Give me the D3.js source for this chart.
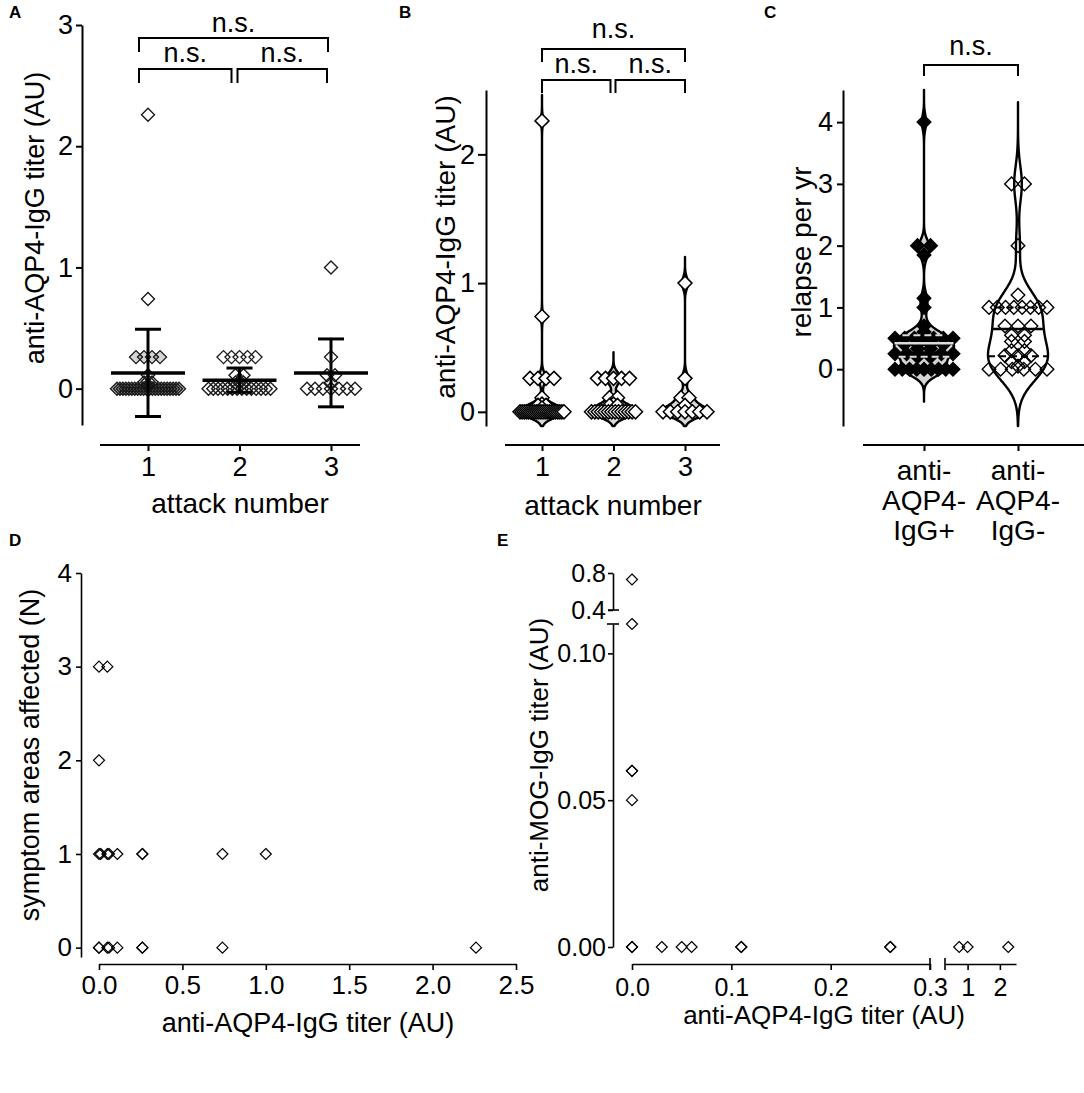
<!DOCTYPE html>
<html>
<head>
<meta charset="utf-8">
<script src="https://cdn.jsdelivr.net/npm/d3@7"></script>
<style>
  body { margin: 0; background: #fff; }
  svg text { font-family: "Liberation Sans", Arial, Helvetica, sans-serif; fill: #000; }
</style>
</head>
<body>
<svg id="figure" width="1084" height="1093"></svg>
<script>
// ---------------------------------------------------------------------------
// Data

// A / B : anti-AQP4-IgG titer (AU) per attack number
const attackNumbers = [1, 2, 3];
const titersAttack1 = [2.26, 0.74, 0.26, 0.26, 0.26, 0.26, 0.11, 0.06, 0.05, 0.05, 0.03,
  0, 0, 0, 0, 0, 0, 0, 0, 0, 0, 0, 0, 0, 0, 0, 0, 0, 0, 0, 0, 0, 0];
const titersAttack2 = [0.26, 0.26, 0.26, 0.26, 0.26, 0.11, 0.11, 0.06, 0.05, 0.05,
  0, 0, 0, 0, 0, 0, 0, 0, 0, 0, 0, 0, 0, 0];
const titersAttack3 = [1.0, 0.26, 0.11, 0.11, 0.05, 0, 0, 0, 0, 0, 0, 0];
const titerMeans = [0.13, 0.07, 0.13];
const titerSDs = [0.36, 0.10, 0.28];
const titerTicksA = [0, 1, 2, 3];
const titerTicksB = [0, 1, 2];

// C : relapses per year by serostatus
const serostatus = ['anti-AQP4-IgG+', 'anti-AQP4-IgG-'];
const serostatusLines = [['anti-', 'AQP4-', 'IgG+'], ['anti-', 'AQP4-', 'IgG-']];
const relapsePositive = [4.0, 2.0, 2.0, 1.85, 1.15, 1.0, 0.7, 0.6,
  0.5, 0.5, 0.5, 0.5, 0.5, 0.5, 0.5, 0.4, 0.4, 0.4, 0.4, 0.33, 0.33,
  0.25, 0.25, 0.25, 0.25, 0.25, 0.25, 0.2, 0.2,
  0, 0, 0, 0, 0, 0, 0, 0, 0];
const relapseNegative = [3.0, 3.0, 2.0, 1.2, 1.0, 1.0, 1.0, 1.0, 1.0, 1.0, 1.0, 1.0,
  0.7, 0.7, 0.7, 0.55, 0.55, 0.45, 0.45, 0.3, 0.3, 0.22, 0.22, 0.22, 0.12, 0.12, 0.05,
  0, 0, 0, 0, 0, 0];
const relapseMedians = [0.42, 0.65];
const relapseQ1 = [0.2, 0.21];
const relapseQ3 = [0.55, 1.0];
const relapseTicks = [0, 1, 2, 3, 4];

// D : symptom areas vs anti-AQP4-IgG titer
const symptomTiter = [0, 0.05, 0, 0, 0.01, 0.05, 0.06, 0.11, 0.26, 0.26, 0.74, 1.0,
  0, 0, 0.05, 0.06, 0.11, 0.26, 0.26, 0.74, 2.26];
const symptomAreas = [3, 3, 2, 1, 1, 1, 1, 1, 1, 1, 1, 1, 0, 0, 0, 0, 0, 0, 0, 0, 0];
const symptomTicksY = [0, 1, 2, 3, 4];
const symptomTicksX = [0, 0.5, 1, 1.5, 2, 2.5];

// E : anti-MOG-IgG vs anti-AQP4-IgG titer (broken axes)
const mogAqp4Titer = [0, 0, 0, 0, 0, 0, 0, 0.03, 0.05, 0.06, 0.11, 0.11, 0.26, 0.26, 0.74, 1.0, 2.26];
const mogTiter = [0.73, 0.11, 0.06, 0.06, 0.05, 0, 0, 0, 0, 0, 0, 0, 0, 0, 0, 0, 0];
const mogTicksLow = [0, 0.05, 0.1];
const mogTicksHigh = [0.4, 0.8];
const aqp4TicksLow = [0, 0.1, 0.2, 0.3];
const aqp4TicksHigh = [1, 2];

// ---------------------------------------------------------------------------
// Helpers

const svg = d3.select('#figure');
const FONT = '"Liberation Sans", Arial, Helvetica, sans-serif';

// square diamond (GraphPad style), size = area
const diamond = {
  draw(ctx, size) {
    const r = Math.sqrt(size / 2);
    ctx.moveTo(0, -r);
    ctx.lineTo(r, 0);
    ctx.lineTo(0, r);
    ctx.lineTo(-r, 0);
    ctx.closePath();
  }
};

function styleAxis(g, font, sw, keepDomain) {
  if (!keepDomain) g.select('.domain').remove();
  g.select('.domain').attr('stroke', '#000').attr('stroke-width', sw);
  g.selectAll('.tick line').attr('stroke', '#000').attr('stroke-width', sw);
  g.selectAll('text').attr('font-size', font).attr('font-family', FONT).attr('fill', '#000');
  g.attr('font-family', FONT);
}

function hLine(g, x0, x1, y, sw) {
  return g.append('line').attr('x1', x0).attr('x2', x1).attr('y1', y).attr('y2', y)
    .attr('stroke', '#000').attr('stroke-width', sw);
}

function vLine(g, x, y0, y1, sw) {
  return g.append('line').attr('x1', x).attr('x2', x).attr('y1', y0).attr('y2', y1)
    .attr('stroke', '#000').attr('stroke-width', sw);
}

function label(g, text, x, y, size, rotate, weight) {
  return g.append('text')
    .attr('transform', `translate(${x},${y})` + (rotate ? ' rotate(-90)' : ''))
    .attr('text-anchor', 'middle')
    .attr('font-size', size)
    .attr('font-weight', weight || 'normal')
    .text(text);
}

function panelLetter(text, x, y) {
  svg.append('text').attr('x', x).attr('y', y)
    .attr('font-size', 17).attr('font-weight', 'bold').text(text);
}

function sigBracket(g, x0, x1, yBar, drop, labelY) {
  g.append('path')
    .attr('d', `M${x0},${yBar + drop}V${yBar}H${x1}V${yBar + drop}`)
    .attr('fill', 'none').attr('stroke', '#000').attr('stroke-width', 2);
  label(g, 'n.s.', (x0 + x1) / 2, labelY, 27);
}

// spread identical values into a centred horizontal row
function rowOffsets(values, step, spread) {
  const counts = d3.rollup(values, v => v.length, d => d);
  const seen = new Map();
  return values.map(v => {
    const k = counts.get(v);
    const i = seen.get(v) || 0;
    seen.set(v, i + 1);
    const s = k > 1 ? Math.min(step, spread / (k - 1)) : 0;
    return (i - (k - 1) / 2) * s;
  });
}

function drawPoints(g, values, xs, y, r, fill, stroke, sw, fillOpacity) {
  g.append('g').selectAll('path').data(values).join('path')
    .attr('transform', (v, i) => `translate(${xs[i]},${y(v)})`)
    .attr('d', d3.symbol(diamond, 2 * r * r))
    .attr('fill', fill)
    .attr('fill-opacity', fillOpacity == null ? 1 : fillOpacity)
    .attr('stroke', stroke)
    .attr('stroke-width', sw)
    .attr('stroke-linejoin', 'miter');
}

// Silverman bandwidth with a floor
function bandwidth(values, floor) {
  const s = values.slice().sort(d3.ascending);
  const iqr = d3.quantileSorted(s, 0.75) - d3.quantileSorted(s, 0.25);
  const spread = Math.min(d3.deviation(s), iqr / 1.34);
  return Math.max(floor, 0.9 * spread * Math.pow(s.length, -0.2));
}

// gaussian kde, clipped to the axis domain like the original software
function makeViolin(values, h, halfMax, clip) {
  const density = v => d3.sum(values, x => Math.exp(-0.5 * ((v - x) / h) ** 2));
  const lo = Math.max(clip[0], d3.min(values) - 4.5 * h);
  const hi = Math.min(clip[1], d3.max(values) + 4.5 * h);
  const grid = d3.range(0, 301).map(i => lo + (hi - lo) * i / 300);
  const peak = d3.max(grid, density);
  return { grid, width: v => density(v) / peak * halfMax };
}

function drawViolin(g, vio, cx, y, fill, sw) {
  g.append('path')
    .datum(vio.grid)
    .attr('d', d3.area()
      .y(v => y(v))
      .x0(v => cx - vio.width(v))
      .x1(v => cx + vio.width(v))
      .curve(d3.curveBasis))
    .attr('fill', fill)
    .attr('stroke', '#000')
    .attr('stroke-width', sw)
    .attr('stroke-linejoin', 'round');
}

// ---------------------------------------------------------------------------
// A : scatter with mean +/- SD

const titerGroups = [titersAttack1, titersAttack2, titersAttack3];
{
  const g = svg.append('g');
  const y = d3.scaleLinear().domain([-0.3, 3]).range([425, 25]);
  const x = d3.scalePoint().domain(attackNumbers).range([148, 331]);

  g.append('g').attr('transform', 'translate(82,0)')
    .call(d3.axisLeft(y).tickValues(titerTicksA).tickFormat(d3.format('d'))
      .tickSize(6).tickPadding(3).tickSizeOuter(0))
    .call(ax => styleAxis(ax, 27, 2, true));
  hLine(g, 100, 360, 445, 2);
  g.append('g').attr('transform', 'translate(0,445)')
    .call(d3.axisBottom(x).tickSize(6).tickPadding(6))
    .call(ax => styleAxis(ax, 27, 2, false));

  titerGroups.forEach((vals, i) => {
    const cx = x(attackNumbers[i]);
    const off = rowOffsets(vals, 8, 62);
    const counts = d3.rollup(vals, v => v.length, d => d);
    // first group: dense clusters carry a grey fill as in the original
    g.append('g').selectAll('path').data(vals).join('path')
      .attr('transform', (v, j) => `translate(${cx + off[j]},${y(v)})`)
      .attr('d', d3.symbol(diamond, 2 * 6.5 * 6.5))
      .attr('fill', v => (i === 0 && counts.get(v) >= 3 ? '#000' : 'none'))
      .attr('fill-opacity', 0.16)
      .attr('stroke', '#1a1a1a')
      .attr('stroke-width', 1.4);
  });

  titerGroups.forEach((vals, i) => {
    const cx = x(attackNumbers[i]);
    const m = titerMeans[i], s = titerSDs[i];
    vLine(g, cx, y(m - s), y(m + s), 3);
    hLine(g, cx - 13, cx + 13, y(m + s), 3);
    hLine(g, cx - 13, cx + 13, y(m - s), 3);
    hLine(g, cx - 37, cx + 37, y(m), 3.5);
  });

  sigBracket(g, x(1) - 9, x(3) - 3, 38, 14, 32);
  sigBracket(g, x(1) - 9, x(2) - 8, 69, 14, 62);
  sigBracket(g, x(2) - 2, x(3) - 4, 69, 14, 62);

  label(g, 'anti-AQP4-IgG titer (AU)', 44, 218, 27, true);
  label(g, 'attack number', 240, 513, 28);
}

// ---------------------------------------------------------------------------
// B : violins of the same titers

{
  const g = svg.append('g');
  const y = d3.scaleLinear().domain([-0.11, 2.5]).range([426, 90]);
  const x = d3.scalePoint().domain(attackNumbers).range([542, 685]);

  g.append('g').attr('transform', 'translate(486,0)')
    .call(d3.axisLeft(y).tickValues(titerTicksB).tickFormat(d3.format('d'))
      .tickSize(8).tickPadding(3).tickSizeOuter(0))
    .call(ax => styleAxis(ax, 27, 2, true));
  hLine(g, 505, 720, 445, 2);
  g.append('g').attr('transform', 'translate(0,445)')
    .call(d3.axisBottom(x).tickSize(6).tickPadding(6))
    .call(ax => styleAxis(ax, 27, 2, false));

  titerGroups.forEach((vals, i) => {
    const cx = x(attackNumbers[i]);
    const vio = makeViolin(vals, bandwidth(vals, 0.045), 23, y.domain());
    drawViolin(g, vio, cx, y, '#d9d9d9', 2.4);
    const off = rowOffsets(vals, 8, 44);
    drawPoints(g, vals, off.map(o => cx + o), y, 7, '#fff', '#000', 1.5);
  });

  sigBracket(g, x(1), x(3), 49, 13, 38);
  sigBracket(g, x(1), x(2) - 3, 80, 13, 73);
  sigBracket(g, x(2) + 2, x(3), 80, 13, 73);

  label(g, 'anti-AQP4-IgG titer (AU)', 455, 247, 28, true);
  label(g, 'attack number', 613, 515, 28);
}

// ---------------------------------------------------------------------------
// C : relapse rate violins

{
  const g = svg.append('g');
  const y = d3.scaleLinear().domain([-0.92, 4.52]).range([426, 90]);
  const x = d3.scalePoint().domain(serostatus).range([924, 1018]);

  g.append('g').attr('transform', 'translate(843,0)')
    .call(d3.axisLeft(y).tickValues(relapseTicks).tickFormat(d3.format('d'))
      .tickSize(6).tickPadding(4).tickSizeOuter(0))
    .call(ax => styleAxis(ax, 27, 2, true));
  hLine(g, 863, 1084, 445, 2);
  g.append('g').attr('transform', 'translate(0,445)')
    .call(d3.axisBottom(x).tickSize(6).tickFormat(''))
    .call(ax => styleAxis(ax, 27, 2, false));
  serostatus.forEach((s, i) => {
    serostatusLines[i].forEach((line, j) => label(g, line, x(s), 480 + j * 30, 28));
  });

  const groups = [relapsePositive, relapseNegative];
  const fills = ['#d4d4d4', '#fff'];
  const ptFill = ['#000', 'none'];
  const lineColor = ['#dcdcdc', '#000'];
  groups.forEach((vals, i) => {
    const cx = x(serostatus[i]);
    const vio = makeViolin(vals, bandwidth(vals, 0.05) * (i === 0 ? 1.2 : 1), 30, y.domain());
    drawViolin(g, vio, cx, y, fills[i], 2.4);
    const off = rowOffsets(vals, 13, 58);
    drawPoints(g, vals, off.map(o => cx + o), y, 6.8, ptFill[i], '#000', 1.4);
    // median (solid) and quartiles (dashed)
    const w = v => vio.width(v);
    hLine(g, cx - w(relapseMedians[i]), cx + w(relapseMedians[i]), y(relapseMedians[i]), 2.5)
      .attr('stroke', lineColor[i]);
    [relapseQ1[i], relapseQ3[i]].forEach(q => {
      g.append('line')
        .attr('x1', cx - w(q)).attr('x2', cx + w(q))
        .attr('y1', y(q)).attr('y2', y(q))
        .attr('stroke', lineColor[i]).attr('stroke-width', 2)
        .attr('stroke-dasharray', '7,4');
    });
  });

  sigBracket(g, x(serostatus[0]), x(serostatus[1]), 65, 11, 55);
  label(g, 'relapse per yr', 811, 252, 28, true);
}

// ---------------------------------------------------------------------------
// D : symptom areas vs titer

{
  const g = svg.append('g');
  const y = d3.scaleLinear().domain([-0.1, 4]).range([957, 573]);
  const x = d3.scaleLinear().domain([0, 2.5]).range([99, 516]);

  g.append('g').attr('transform', 'translate(81,0)')
    .call(d3.axisLeft(y).tickValues(symptomTicksY).tickFormat(d3.format('d'))
      .tickSize(5).tickPadding(4).tickSizeOuter(0))
    .call(ax => styleAxis(ax, 26, 1.6, true));
  g.append('g').attr('transform', 'translate(0,964)')
    .call(d3.axisBottom(x).tickValues(symptomTicksX).tickFormat(d3.format('.1f'))
      .tickSize(6).tickPadding(6).tickSizeOuter(0))
    .call(ax => styleAxis(ax, 26, 1.6, true));

  drawPoints(g, symptomAreas, symptomTiter.map(v => x(v)), y, 5.5, 'none', '#000', 1.2);

  label(g, 'symptom areas affected (N)', 39, 755, 27, true);
  label(g, 'anti-AQP4-IgG titer (AU)', 308, 1032, 27);
}

// ---------------------------------------------------------------------------
// E : anti-MOG vs anti-AQP4 titers with broken axes

{
  const g = svg.append('g');
  const yLow = d3.scaleLinear().domain([0, 0.11]).range([947, 624]);
  const yHigh = d3.scaleLinear().domain([0.4, 0.8]).range([610, 573]);
  const xLow = d3.scaleLinear().domain([0, 0.3]).range([632, 930]);
  const xHigh = d3.scaleLinear().domain([0.3, 2.5]).range([945, 1016]);
  const axX = 613, axY = 964;

  g.append('g').attr('transform', `translate(${axX},0)`)
    .call(d3.axisLeft(yLow).tickValues(mogTicksLow).tickFormat(d3.format('.2f'))
      .tickSize(5).tickPadding(2).tickSizeOuter(0))
    .call(ax => styleAxis(ax, 25, 1.6, true));
  g.append('g').attr('transform', `translate(${axX},0)`)
    .call(d3.axisLeft(yHigh).tickValues(mogTicksHigh).tickFormat(d3.format('.1f'))
      .tickSize(5).tickPadding(2).tickSizeOuter(0))
    .call(ax => styleAxis(ax, 25, 1.6, true));
  // y break marks
  hLine(g, axX - 5, axX + 6, yHigh(0.4), 1.6);
  hLine(g, axX - 6, axX + 6, yLow(0.11), 1.6);

  g.append('g').attr('transform', `translate(0,${axY})`)
    .call(d3.axisBottom(xLow).tickValues(aqp4TicksLow).tickFormat(d3.format('.1f'))
      .tickSize(6).tickPadding(8).tickSizeOuter(0))
    .call(ax => styleAxis(ax, 25, 1.6, true));
  g.append('g').attr('transform', `translate(0,${axY})`)
    .call(d3.axisBottom(xHigh).tickValues(aqp4TicksHigh).tickFormat(d3.format('d'))
      .tickSize(6).tickPadding(8).tickSizeOuter(0))
    .call(ax => styleAxis(ax, 25, 1.6, true));
  // x break marks
  vLine(g, xLow(0.3), axY - 6, axY + 6, 1.6);
  vLine(g, xHigh(0.3), axY - 6, axY + 6, 1.6);

  const yE = v => (v > 0.2 ? yHigh(v) : yLow(v));
  const xE = v => (v > 0.3 ? xHigh(v) : xLow(v));
  drawPoints(g, mogTiter, mogAqp4Titer.map(xE), yE, 5.5, 'none', '#000', 1.2);

  label(g, 'anti-MOG-IgG titer (AU)', 548, 755, 26, true);
  label(g, 'anti-AQP4-IgG titer (AU)', 824, 1024, 26);
}

panelLetter('A', 9, 18);
panelLetter('B', 399, 18);
panelLetter('C', 764, 18);
panelLetter('D', 9, 546);
panelLetter('E', 497, 546);
</script>
</body>
</html>
